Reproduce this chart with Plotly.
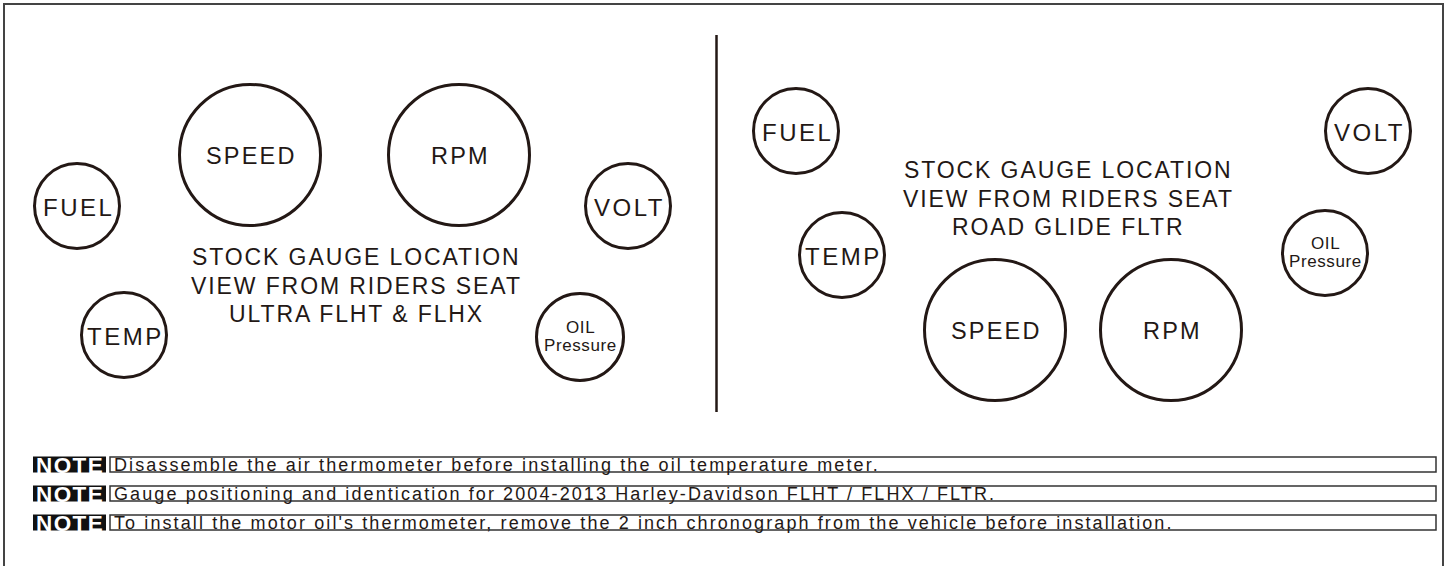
import plotly.graph_objects as go

# ---- data (diagram coordinates in px, y downward) ----
left_labels = ["SPEED", "RPM", "FUEL", "VOLT", "TEMP", "OIL<br>Pressure"]
left_x = [250, 459, 77, 628, 124, 580]
left_y = [155, 155, 206, 206, 335, 337]
left_r = [72, 72, 44, 44, 44, 45]

right_labels = ["FUEL", "VOLT", "TEMP", "OIL<br>Pressure", "SPEED", "RPM"]
right_x = [796, 1368, 842, 1325, 995, 1171]
right_y = [131, 131, 255, 253, 330, 330]
right_r = [44, 44, 44, 44, 72, 72]

left_title = ["STOCK GAUGE LOCATION", "VIEW FROM RIDERS SEAT", "ULTRA FLHT & FLHX"]
right_title = ["STOCK GAUGE LOCATION", "VIEW FROM RIDERS SEAT", "ROAD GLIDE FLTR"]

notes = [
    "Disassemble the air thermometer before installing the oil temperature meter.",
    "Gauge positioning and identication for 2004-2013 Harley-Davidson FLHT / FLHX / FLTR.",
    "To install the motor oil's thermometer, remove the 2 inch chronograph from the vehicle before installation.",
]
note_y = [464.5, 493.5, 522.5]

W, H = 1449, 566
INK = "#231815"
FONT = "Arial, Liberation Sans, Helvetica, sans-serif"

fig = go.Figure()
fig.add_trace(go.Scatter(x=[0, W], y=[0, H], mode="markers",
                         marker=dict(opacity=0), hoverinfo="skip", showlegend=False))

shapes = []
annotations = []

# outer frame
shapes.append(dict(type="rect", xref="x", yref="y", x0=4, x1=1443, y0=4, y1=570,
                   line=dict(color="#444", width=2)))
# divider
shapes.append(dict(type="line", xref="x", yref="y", x0=716.5, x1=716.5, y0=35, y1=412,
                   line=dict(color=INK, width=2.5)))

def spaced(t, sp):
    return f'<span style="letter-spacing:{sp}px">{t}</span>'

for labels, xs, ys, rs in [(left_labels, left_x, left_y, left_r),
                           (right_labels, right_x, right_y, right_r)]:
    for lab, cx, cy, r in zip(labels, xs, ys, rs):
        rr = r - 1.5
        shapes.append(dict(type="circle", xref="x", yref="y",
                           x0=cx - rr, x1=cx + rr, y0=cy - rr, y1=cy + rr,
                           line=dict(color=INK, width=3)))
        if "<br>" in lab:
            a, b = lab.split("<br>")
            annotations.append(dict(x=cx, y=cy - 10, xref="x", yref="y", text=spaced(a, 0.6),
                                    showarrow=False, font=dict(family=FONT, size=17, color=INK)))
            annotations.append(dict(x=cx, y=cy + 8, xref="x", yref="y", text=spaced(b, 0.6),
                                    showarrow=False, font=dict(family=FONT, size=17, color=INK)))
        elif r > 60:
            annotations.append(dict(x=cx + 1, y=cy + 1, xref="x", yref="y", text=spaced(lab, 2.2),
                                    showarrow=False, font=dict(family=FONT, size=23.5, color=INK)))
        else:
            annotations.append(dict(x=cx + 1, y=cy + 1, xref="x", yref="y", text=spaced(lab, 2.5),
                                    showarrow=False, font=dict(family=FONT, size=24, color=INK)))

for lines, cx, y0 in [(left_title, 355, 257), (right_title, 1067, 170)]:
    for i, t in enumerate(lines):
        annotations.append(dict(x=cx + 1, y=y0 + i * 28.5, xref="x", yref="y", text=spaced(t, 1.9),
                                showarrow=False, font=dict(family=FONT, size=23, color=INK)))

for t, yy in zip(notes, note_y):
    shapes.append(dict(type="rect", xref="x", yref="y", x0=33, x1=106, y0=yy - 8, y1=yy + 8,
                       line=dict(width=0), fillcolor="#111"))
    annotations.append(dict(x=70, y=yy + 1, xref="x", yref="y", text=spaced("<b>NOTE</b>", 1.4),
                            showarrow=False,
                            font=dict(family=FONT, size=22.5, color="white")))
    shapes.append(dict(type="rect", xref="x", yref="y", x0=110, x1=1436, y0=yy - 7.5, y1=yy + 7.5,
                       line=dict(color="#333", width=1.5)))
    annotations.append(dict(x=112, y=yy + 0.5, xref="x", yref="y", text=spaced(t, 2.1), xanchor="left",
                            showarrow=False, font=dict(family=FONT, size=18, color=INK)))

fig.update_layout(
    width=W, height=H, margin=dict(l=0, r=0, t=0, b=0),
    paper_bgcolor="white", plot_bgcolor="white",
    xaxis=dict(range=[0, W], visible=False, fixedrange=True),
    yaxis=dict(range=[H, 0], visible=False, fixedrange=True),
    shapes=shapes, annotations=annotations, showlegend=False,
)

fig.write_html("out.html", config={"displayModeBar": False},
               post_script="document.body.style.margin='0';document.body.style.overflow='hidden';")
